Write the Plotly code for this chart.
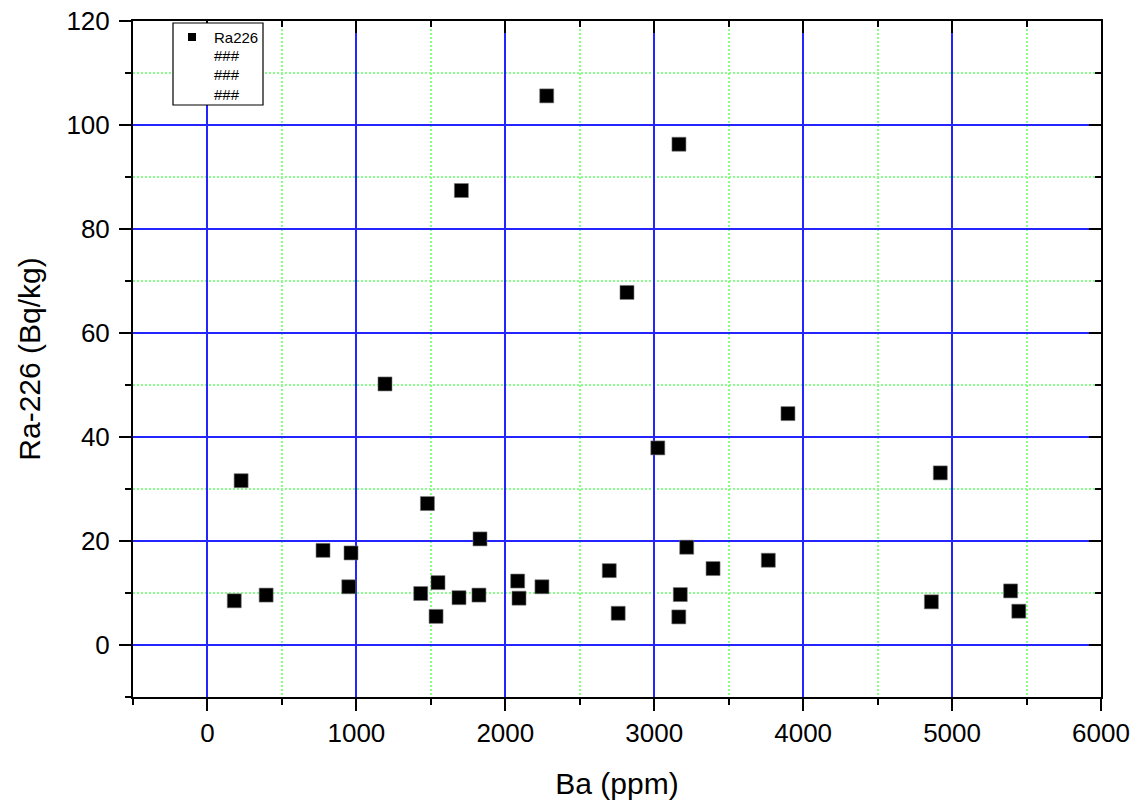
import plotly.graph_objects as go

# Ba concentration (ppm) and Ra-226 activity (Bq/kg) per sample
ba_ppm = [180, 226, 394, 776, 949, 964, 1192, 1432, 1477, 1535, 1548, 1689,
          1705, 1823, 1830, 2083, 2092, 2246, 2278, 2698, 2758, 2817, 3024,
          3165, 3166, 3175, 3218, 3395, 3766, 3898, 4861, 4921, 5393, 5448]
ra226 = [8.5, 31.6, 9.6, 18.2, 11.2, 17.7, 50.2, 9.9, 27.2, 5.5, 12.0, 9.1,
         87.4, 9.6, 20.4, 12.3, 9.0, 11.2, 105.6, 14.3, 6.1, 67.8, 37.9,
         5.4, 96.3, 9.7, 18.8, 14.7, 16.3, 44.5, 8.3, 33.1, 10.4, 6.5]

series_name = "Ra226"
legend_labels = [series_name, "###", "###", "###"]

x_range = [-500, 6000]
y_range = [-10, 120]

FONT = "Liberation Sans, Arial, sans-serif"

W, H = 1144, 800
ML, MR, MT, MB = 133, 43, 21, 103
PW, PH = W - ML - MR, H - MT - MB


def px_x(p):
    """page pixel column -> paper x"""
    return (p - ML) / PW


def px_y(p):
    """page pixel row -> paper y"""
    return (H - MB - p) / PH


fig = go.Figure()

# data points
fig.add_trace(go.Scatter(
    x=ba_ppm, y=ra226, mode="markers", name=series_name, showlegend=False,
    marker=dict(symbol="square", size=14, color="black",
                line=dict(width=0.6, color="#777777")),
))

# mirrored frame axes (ticks pointing inward on top and right)
fig.add_trace(go.Scatter(x=[None], y=[None], xaxis="x2", yaxis="y2",
                         showlegend=False, hoverinfo="skip"))

# legend box drawn in paper space
shapes = [
    dict(type="rect", xref="paper", yref="paper",
         x0=px_x(173), x1=px_x(263), y0=px_y(105), y1=px_y(23),
         fillcolor="white", line=dict(color="black", width=1.2), layer="above"),
    dict(type="rect", xref="paper", yref="paper",
         x0=px_x(188), x1=px_x(196), y0=px_y(41), y1=px_y(33),
         fillcolor="black", line=dict(width=0), layer="above"),
]
annotations = []
for i, lab in enumerate(legend_labels):
    annotations.append(dict(
        xref="paper", yref="paper", x=px_x(212), y=px_y(37 + 19 * i),
        xanchor="left", yanchor="middle", showarrow=False, text=lab,
        font=dict(family=FONT, size=15, color="black"),
    ))

common = dict(
    showline=True, linecolor="black", linewidth=2,
    zeroline=False, automargin=False,
    tickfont=dict(family=FONT, size=26, color="black"),
    tickwidth=2, tickcolor="black",
)

minor_grid = dict(showgrid=True, gridcolor="#88FF88", griddash="2px,2px",
                  gridwidth=1.5)

fig.update_layout(
    template="none",
    width=W, height=H,
    margin=dict(l=ML, r=MR, t=MT, b=MB),
    paper_bgcolor="white", plot_bgcolor="white",
    font=dict(family=FONT, color="black"),
    showlegend=False,
    shapes=shapes,
    annotations=annotations,
    xaxis=dict(
        range=x_range, dtick=1000, tick0=0,
        ticks="outside", ticklen=12,
        showgrid=True, gridcolor="#2424FF", gridwidth=1.5,
        minor=dict(dtick=500, ticks="outside", ticklen=6, tickwidth=2,
                   tickcolor="black", **minor_grid),
        title=dict(text="Ba (ppm)", font=dict(family=FONT, size=30),
                   standoff=28),
        **common,
    ),
    yaxis=dict(
        range=y_range, dtick=20, tick0=0,
        ticks="outside", ticklen=12,
        showgrid=True, gridcolor="#2424FF", gridwidth=1.5,
        minor=dict(dtick=10, ticks="outside", ticklen=6, tickwidth=2,
                   tickcolor="black", **minor_grid),
        ticklabelstandoff=4,
        title=dict(text="Ra-226 (Bq/kg)", font=dict(family=FONT, size=30),
                   standoff=17),
        **common,
    ),
    xaxis2=dict(
        range=x_range, dtick=1000, tick0=0, overlaying="x", side="top",
        ticks="inside", ticklen=12, showticklabels=False, showgrid=False,
        minor=dict(dtick=500, ticks="inside", ticklen=6, tickwidth=2,
                   tickcolor="black", showgrid=False),
        **common,
    ),
    yaxis2=dict(
        range=y_range, dtick=20, tick0=0, overlaying="y", side="right",
        ticks="inside", ticklen=12, showticklabels=False, showgrid=False,
        minor=dict(dtick=10, ticks="inside", ticklen=6, tickwidth=2,
                   tickcolor="black", showgrid=False),
        **common,
    ),
)

fig.write_html("out.html")
